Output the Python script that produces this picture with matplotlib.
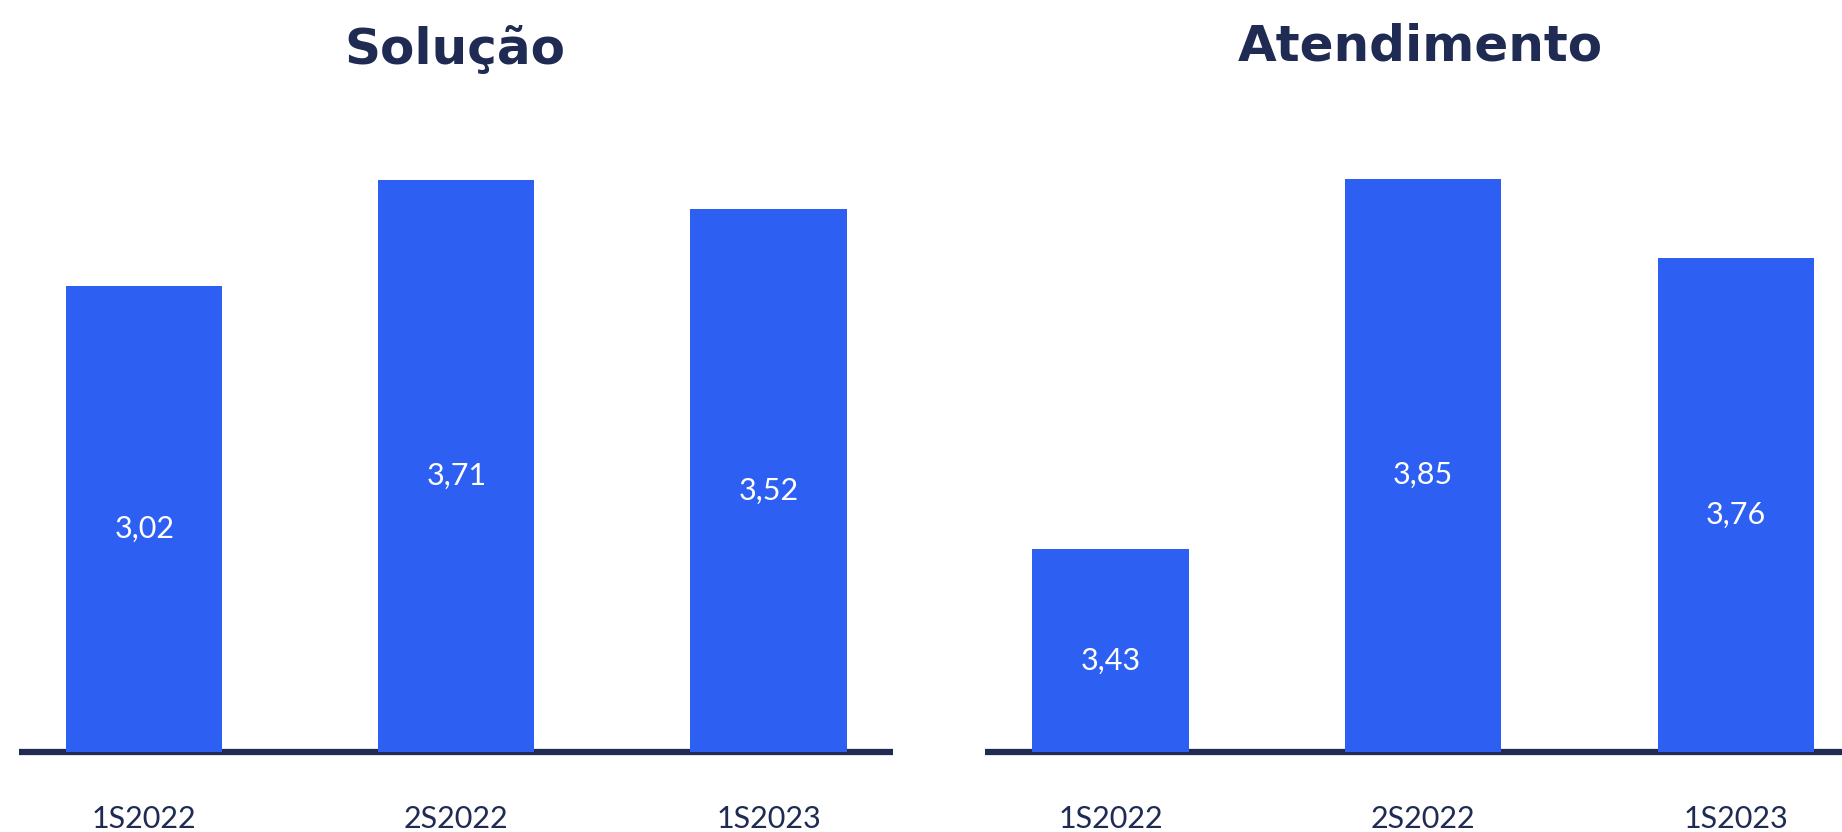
import matplotlib.pyplot as plt

# values
periods = ["1S2022", "2S2022", "1S2023"]
solucao = [3.02, 3.71, 3.52]
atendimento = [3.43, 3.85, 3.76]
titles = ["Solução", "Atendimento"]

bar_color = "#2d5ff3"
navy = "#1f2b52"

fig = plt.figure(figsize=(18.42, 8.32), dpi=100)
ax1 = fig.add_axes([0.0105, 0.096, 0.4745, 0.76])
ax2 = fig.add_axes([0.535, 0.096, 0.465, 0.76])

panels = [
    (ax1, solucao, (0, 4.1), (-0.4, 2.4)),
    (ax2, atendimento, (3.2, 3.917), (-0.4, 2.34)),
]

for (ax, vals, ylim, xlim), title in zip(panels, titles):
    x = range(len(periods))
    ax.bar(x, vals, width=0.5, color=bar_color, zorder=3)
    ax.set_ylim(*ylim)
    ax.set_xlim(*xlim)
    ax.axhline(ylim[0], color=navy, lw=4.5, zorder=2, clip_on=False,
               solid_capstyle="butt")
    for xi, v in zip(x, vals):
        ax.annotate(f"{v:.2f}".replace(".", ","), (xi, (ylim[0] + v) / 2),
                    xytext=(0, -7), textcoords="offset points",
                    ha="center", va="center", color="white",
                    fontsize=22, family="Lato", zorder=4)
    ax.set_xticks(list(x))
    ax.set_xticklabels(periods, fontsize=22, family="Lato", color=navy)
    ax.tick_params(axis="x", length=0, pad=38)
    ax.set_yticks([])
    for s in ax.spines.values():
        s.set_visible(False)

fig.text(0.247, 0.94, titles[0], ha="center", va="center", fontsize=36,
         family="DejaVu Sans", weight="bold", color=navy)
fig.text(0.771, 0.944, titles[1], ha="center", va="center", fontsize=36,
         family="DejaVu Sans", weight="bold", color=navy)

plt.savefig("out.png", dpi=100)
